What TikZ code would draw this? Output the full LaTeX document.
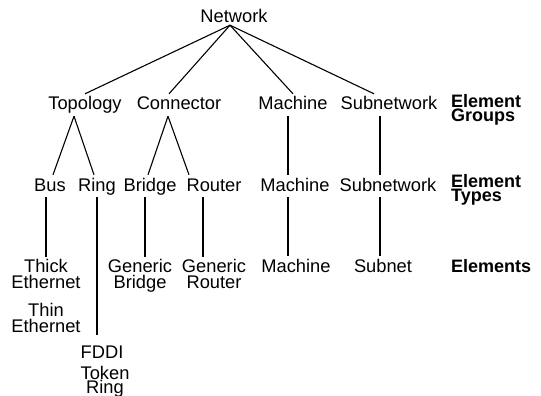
\documentclass[tikz,border=0pt]{standalone}
\usepackage{fontspec}
\setmainfont{Liberation Sans}
\usepackage{tikz}
\usetikzlibrary{calc}
\newcommand{\lblfont}{\fontsize{18.3}{16}\selectfont}
\newcommand{\tightfont}{\fontsize{18.3}{14}\selectfont}
\newcommand{\levelfont}{\fontsize{18}{14}\selectfont\bfseries}
\tikzset{
  item/.style={inner sep=2pt,font=\lblfont,text height=14pt,text depth=4pt,anchor=base},
  stack/.style={inner sep=2pt,font=\lblfont,align=center,anchor=north},
  level/.style={inner sep=0pt,font=\levelfont,align=left,anchor=north west},
  link/.style={draw=black,line width=1.1pt}
}
\begin{document}
\begin{tikzpicture}[x=1pt,y=-1pt]
      \useasboundingbox (0,0) rectangle (541,396);
      \node[item] (net) at (234,23) {Network};
      \node[item] (topo) at (85,110) {Topology};
      \node[item] (conn) at (179,110) {Connector};
      \node[item] (mach) at (293,110) {Machine};
      \node[item] (subn) at (389,110) {Subnetwork};
      \node[level] (groups) at (451,94) {Element\\Groups};
      \node[item] (bus) at (50,191) {Bus};
      \node[item] (ring) at (97,191) {Ring};
      \node[item] (brdg) at (150,191) {Bridge};
      \node[item] (rout) at (214,191) {Router};
      \node[item] (mtype) at (295,191) {Machine};
      \node[item] (stype) at (388,191) {Subnetwork};
      \node[level] (types) at (451,174) {Element\\Types};
      \node[stack] (thick) at (46,257) {Thick\\Ethernet};
      \node[stack] (thin) at (46,301) {Thin\\Ethernet};
      \node[stack] (gbr) at (140,257) {Generic\\Bridge};
      \node[stack] (grt) at (214,257) {Generic\\Router};
      \node[item] (melem) at (296,272) {Machine};
      \node[item] (subnet) at (383,272) {Subnet};
      \node[level,anchor=base west] (elems) at (451,272) {Elements};
      \node[item] (fddi) at (102,358) {FDDI};
      \node[stack,font=\tightfont] (token) at (105,364) {Token\\Ring};
      \coordinate (net-c) at ([xshift=-4pt,yshift=4pt]net.south);
      \draw[link] (net-c) -- (topo.north);
      \draw[link] (net-c) -- ([xshift=-10pt]conn.north);
      \draw[link] (net-c) -- (mach.north);
      \draw[link] (net-c) -- ([xshift=-15pt]subn.north);
      \draw[link] ([xshift=-11pt]topo.south) -- ([xshift=3pt]bus.north);
      \draw[link] ([xshift=-11pt]topo.south) -- ([xshift=-3pt]ring.north);
      \draw[link] ([xshift=-11pt]conn.south) -- ([xshift=-2pt]brdg.north);
      \draw[link] ([xshift=-11pt]conn.south) -- ([xshift=-25pt]rout.north);
      \draw[link] ([xshift=-5pt]mach.south) -- ([xshift=-7pt]mtype.north);
      \draw[link] ([xshift=-9pt]subn.south) -- ([xshift=-8pt]stype.north);
      \draw[link] ([xshift=-4pt]bus.south) -- (thick.north);
      \draw[link,shorten >=7pt] (ring.south) -- (ring.south |- fddi.north);
      \draw[link] ([xshift=-5pt]brdg.south) -- ([xshift=5pt]gbr.north);
      \draw[link] ([xshift=-11pt]rout.south) -- ([xshift=-11pt]grt.north);
      \draw[link] ([xshift=-7pt]mtype.south) -- ([xshift=-8pt]melem.north);
      \draw[link] ([xshift=-8pt]stype.south) -- ([xshift=-3pt]subnet.north);
    \end{tikzpicture}
\end{document}
